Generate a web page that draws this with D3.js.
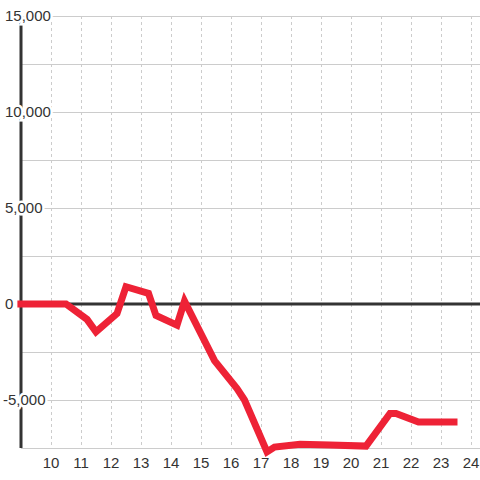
<!DOCTYPE html>
<html>
<head>
<meta charset="utf-8">
<script src="https://cdn.jsdelivr.net/npm/d3@7"></script>
<style>
  body { margin: 0; background: #fff; }
  text { font-family: "Liberation Sans", Arial, sans-serif; font-size: 15px; fill: #333; }
</style>
</head>
<body>
<div id="chart"></div>
<script>
var width = 480,
  height = 480;

// hour of day / net value
var hours = [8.88, 10.5, 11.2, 11.5, 12.2, 12.5, 13.25, 13.5, 14.2, 14.45, 15.45, 16.2, 16.45, 17.2, 17.45, 18.3, 19.3, 20.5, 21.3, 21.5, 22.25, 23.55];
var values = [0, 0, -800, -1450, -500, 900, 550, -600, -1100, 150, -2950, -4400, -5000, -7700, -7450, -7300, -7350, -7400, -5700, -5700, -6150, -6150];

var xTicks = [10, 11, 12, 13, 14, 15, 16, 17, 18, 19, 20, 21, 22, 23, 24];
var yTicks = [15000, 10000, 5000, 0, -5000];
var yGrid = [15000, 12500, 10000, 7500, 5000, 2500, -2500, -5000, -7500];

var x = d3.scaleLinear()
  .domain([9, 24.3])
  .range([21, 480]);

var y = d3.scaleLinear()
  .domain([-7500, 15000])
  .range([448, 16]);

var svg = d3.select("#chart").append("svg")
  .attr("width", width)
  .attr("height", height);

// vertical dashed grid
svg.append("g")
  .selectAll("line")
  .data(xTicks)
  .enter().append("line")
  .attr("x1", d => x(d) + 0.5)
  .attr("x2", d => x(d) + 0.5)
  .attr("y1", y(15000))
  .attr("y2", y(-7500))
  .attr("stroke", "#ccc")
  .attr("stroke-dasharray", "3,3");

// horizontal grid
svg.append("g")
  .selectAll("line")
  .data(yGrid)
  .enter().append("line")
  .attr("x1", x(9))
  .attr("x2", width)
  .attr("y1", d => Math.round(y(d)) + 0.5)
  .attr("y2", d => Math.round(y(d)) + 0.5)
  .attr("stroke", "#ccc");

// zero line
svg.append("line")
  .attr("x1", x(9))
  .attr("x2", width)
  .attr("y1", y(0))
  .attr("y2", y(0))
  .attr("stroke", "#333")
  .attr("stroke-width", 3);

// y axis line
svg.append("line")
  .attr("x1", x(9))
  .attr("x2", x(9))
  .attr("y1", y(15000))
  .attr("y2", y(-7500))
  .attr("stroke", "#333")
  .attr("stroke-width", 3);

// y labels with white halo, left aligned
svg.append("g")
  .selectAll("text")
  .data(yTicks)
  .enter().append("text")
  .attr("x", d => d < 0 ? 3 : 5)
  .attr("y", d => y(d))
  .attr("dy", "0.35em")
  .attr("text-anchor", "start")
  .attr("stroke", "#fff")
  .attr("stroke-width", 5)
  .attr("paint-order", "stroke")
  .text(d => d3.format(",")(d).replace("−", "-"));

var line = d3.line()
  .x((d, i) => x(hours[i]))
  .y(d => y(d));

svg.append("path")
  .datum(values)
  .attr("d", line)
  .attr("fill", "none")
  .attr("stroke", "#ee2236")
  .attr("stroke-width", 7)
  .attr("stroke-linejoin", "miter");

// x labels
svg.append("g")
  .selectAll("text")
  .data(xTicks)
  .enter().append("text")
  .attr("x", d => x(d))
  .attr("y", 463)
  .attr("dy", "0.35em")
  .attr("text-anchor", "middle")
  .text(d => d);
</script>
</body>
</html>
